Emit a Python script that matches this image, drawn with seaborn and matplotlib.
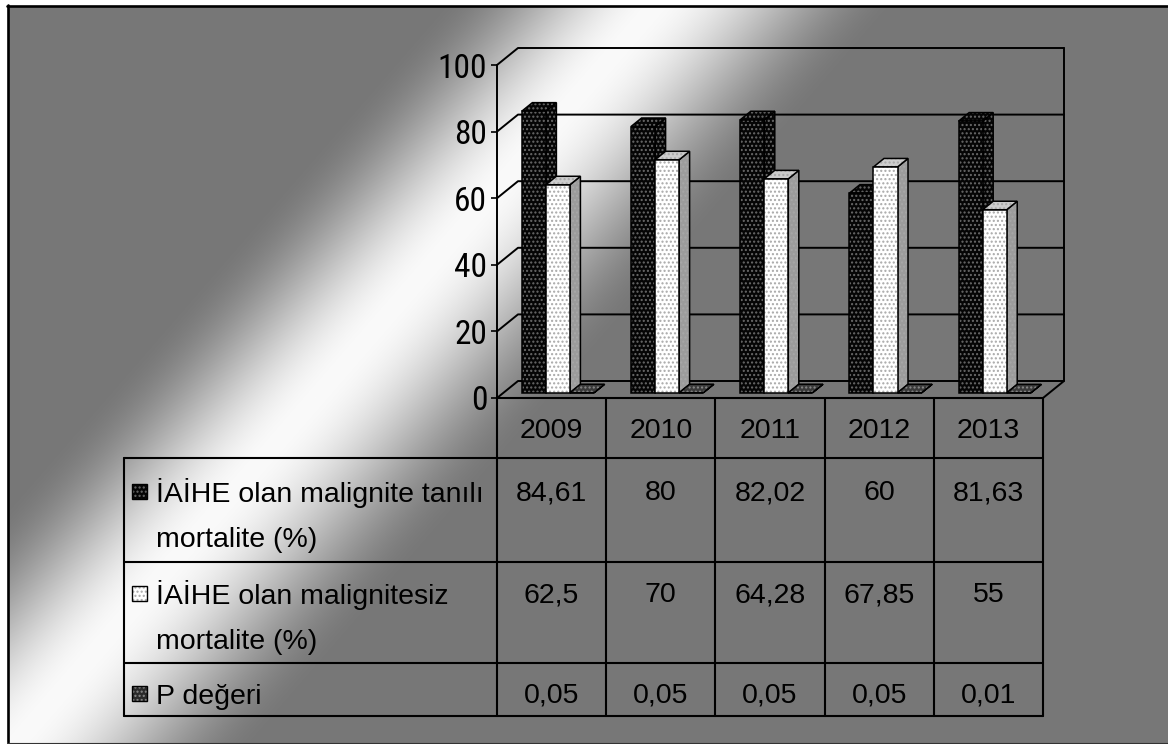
import numpy as np
import pandas as pd
import matplotlib
matplotlib.use("Agg")
import matplotlib.pyplot as plt
import seaborn as sns
from matplotlib import font_manager
from matplotlib.patches import Polygon, Rectangle
from matplotlib.lines import Line2D
from matplotlib.transforms import Affine2D, IdentityTransform

# ---- data ----
years = ["2009", "2010", "2011", "2012", "2013"]
malign_mortality = [84.61, 80, 82.02, 60, 81.63]
nonmalign_mortality = [62.5, 70, 64.28, 67.85, 55]
p_values = [0.05, 0.05, 0.05, 0.05, 0.01]
series_names = [
    "İAİHE olan malignite tanılı\nmortalite (%)",
    "İAİHE olan malignitesiz\nmortalite (%)",
    "P değeri",
]
y_ticks = [0, 20, 40, 60, 80, 100]

W, H = 1168, 744
sns.set_theme(style="white")
plt.rcParams["font.family"] = ["Liberation Sans", "DejaVu Sans"]
plt.rcParams["hatch.linewidth"] = 1.0

# a narrow face for the value axis, if one is installed
installed = {f.name for f in font_manager.fontManager.ttflist}
narrow_face = None
for cand in ["Liberation Sans Narrow", "Arial Narrow", "Roboto Condensed",
             "DejaVu Sans Condensed", "Open Sans Condensed"]:
    if cand in installed:
        narrow_face = cand
        break
if narrow_face:
    TICK_FAMILY, TICK_FS = [narrow_face, "Liberation Sans"], 24
else:
    TICK_FAMILY, TICK_FS = ["Liberation Sans", "DejaVu Sans"], 22

fig = plt.figure(figsize=(W / 100, H / 100), dpi=100)
fig.patch.set_facecolor("white")

# ---- background: grey fill with a diagonal light band ----
bg = fig.add_axes([0, 0, 1, 1], zorder=0)
bg.set_xlim(0, W)
bg.set_ylim(H, 0)
bg.axis("off")
yy, xx = np.mgrid[0:H, 0:W] + 0.5
t = (xx - 643) * 0.755 + (yy - 20) * 0.655
f = np.where(t < 0, 1 + t / 165.0, 1 - t / 185.0)
f = np.clip(f, 0, 1)
f = f * f * (3 - 2 * f)
g = (119 + (250 - 119) * f) / 255.0
bg.imshow(np.dstack([g, g, g]), extent=(0, W, H, 0), aspect="auto",
          interpolation="bilinear", zorder=0)
bg.add_patch(Rectangle((0, 0), 7, H, color="white", zorder=1))
bg.add_patch(Rectangle((0, 0), W, 5, color="white", zorder=1))
bg.add_line(Line2D([7.5, 7.5], [5, 742], color="black", lw=1.9, zorder=2))
bg.add_line(Line2D([7, W], [5.5, 5.5], color="black", lw=1.9, zorder=2))
bg.add_line(Line2D([7, W], [742.5, 742.5], color="#333333", lw=0.8, zorder=2))

# ---- plot area (front plane of the 3-D box) ----
X0, X1, Y0, Y100 = 497, 1043, 398, 65
DX, DY = 21, 17           # depth of the box in pixels
ax = fig.add_axes([X0 / W, 1 - Y0 / H, (X1 - X0) / W, (Y0 - Y100) / H], zorder=2)
ax.patch.set_alpha(0)

df = pd.DataFrame({
    "Yıl": years * 3,
    "Değer": malign_mortality + nonmalign_mortality + p_values,
    "Seri": [s for s in series_names for _ in years],
})
sns.barplot(data=df, x="Yıl", y="Değer", hue="Seri", hue_order=series_names,
            palette=["#050505", "#ffffff", "#2a2a2a"], saturation=1,
            width=0.66, dodge=True, errorbar=None, legend=False,
            linewidth=0, ax=ax)
ax.set_xlim(-0.5, 4.5)
ax.set_ylim(0, 100)
ax.set_xticks([])
ax.set_xlabel("")
ax.set_ylabel("")
ax.set_yticks(y_ticks)
ax.set_yticklabels([str(v) for v in y_ticks], fontfamily=TICK_FAMILY,
                   fontsize=TICK_FS)
ax.tick_params(axis="y", direction="out", length=4.5, width=1.2,
               color="black", pad=2.5, labelcolor="black", left=True)
for side in ["top", "right", "bottom"]:
    ax.spines[side].set_visible(False)
ax.spines["left"].set_color("black")
ax.spines["left"].set_linewidth(1.4)
ax.grid(False)


def disp(x, y):
    """pixel position measured from the top-left corner -> display coords"""
    return (x, H - y)


ID = IdentityTransform()


def wline(pts, lw=1.4, z=1):
    xs, ys = zip(*[disp(*p) for p in pts])
    ax.add_line(Line2D(xs, ys, color="black", lw=lw, transform=ID,
                       zorder=z, clip_on=False))


# back wall, side wall and floor outlines
scale = (Y0 - Y100) / 100.0
for v in y_ticks:
    yf = Y0 - v * scale
    wline([(X0, yf), (X0 + DX, yf - DY), (X1 + DX, yf - DY)])
wline([(X1 + DX, Y100 - DY), (X1 + DX, Y0 - DY), (X1, Y0)])

# ---- 3-D faces of every bar ----
styles = [
    dict(front="#050505", side="#050505", top="#050505", hatch="#6a6a6a"),
    dict(front="#ffffff", side="#9c9c9c", top="#cdcdcd", hatch="#a8a8a8"),
    dict(front="#2a2a2a", side="#2a2a2a", top="#3a3a3a", hatch="#8a8a8a"),
]
fo = (0.3 * DX, 0.3 * DY)        # front face position inside the box
dv = (0.5 * DX, 0.5 * DY)        # thickness of a bar


def face(pts, fc, hc, z):
    ax.add_patch(Polygon(pts, closed=True, facecolor=fc, edgecolor=hc,
                         hatch="....", lw=0, transform=ID, zorder=z,
                         clip_on=False))
    ax.add_patch(Polygon(pts, closed=True, fill=False, edgecolor="black",
                         lw=1.1, transform=ID, zorder=z + 0.1,
                         clip_on=False))


for i, cont in enumerate(ax.containers):
    st = styles[i]
    for j, bar in enumerate(cont.patches):
        x, w, h = bar.get_x(), bar.get_width(), bar.get_height()
        (a0, b0) = ax.transData.transform((x, 0))
        (a1, b1) = ax.transData.transform((x + w, h))
        a0 += fo[0]; a1 += fo[0]; b0 += fo[1]; b1 += fo[1]
        z = 5 + j * 10 + i * 3
        side = [(a1, b0), (a1, b1), (a1 + dv[0], b1 + dv[1]), (a1 + dv[0], b0 + dv[1])]
        top = [(a0, b1), (a1, b1), (a1 + dv[0], b1 + dv[1]), (a0 + dv[0], b1 + dv[1])]
        face(side, st["side"], st["hatch"], z)
        face(top, st["top"], st["hatch"], z + 0.5)
        bar.set_transform(ax.transData + Affine2D().translate(*fo))
        bar.set_facecolor(st["front"])
        bar.set_edgecolor(st["hatch"])
        bar.set_hatch("....")
        bar.set_linewidth(0)
        bar.set_zorder(z + 1)
        bar.set_clip_on(False)
        front = [(a0, b0), (a1, b0), (a1, b1), (a0, b1)]
        ax.add_patch(Polygon(front, closed=True, fill=False, edgecolor="black",
                             lw=1.1, transform=ID, zorder=z + 1.1, clip_on=False))

# ---- data table ----
ov = fig.add_axes([0, 0, 1, 1], zorder=3)
ov.set_xlim(0, W)
ov.set_ylim(H, 0)
ov.axis("off")
ov.patch.set_alpha(0)

col_edges = np.linspace(X0, X1, len(years) + 1)
row_edges = [Y0, 458, 562, 663, 716]
TL = 124
lw_t = 1.5
for k, xe in enumerate(col_edges):
    ov.add_line(Line2D([xe, xe], [Y0, row_edges[-1]], color="black", lw=lw_t))
ov.add_line(Line2D([TL, TL], [row_edges[1], row_edges[-1]], color="black", lw=lw_t))
ov.add_line(Line2D([X0, X1], [Y0, Y0], color="black", lw=lw_t))
for ye in row_edges[1:]:
    ov.add_line(Line2D([TL, X1], [ye, ye], color="black", lw=lw_t))

FS = 20.5
centers = (col_edges[:-1] + col_edges[1:]) / 2
for cx, yr in zip(centers, years):
    ov.text(cx, 438, yr, ha="center", va="baseline", fontsize=FS, color="black")


def fmt(v):
    return f"{v:g}".replace(".", ",")


rows = [malign_mortality, nonmalign_mortality, p_values]
row_base = [500, 602, 702]
key_styles = [("#050505", "#6a6a6a"), ("#ffffff", "#a8a8a8"), ("#2a2a2a", "#8a8a8a")]
for r, (vals, name) in enumerate(zip(rows, series_names)):
    yb = row_base[r]
    for cx, v in zip(centers, vals):
        ov.text(cx, yb, fmt(v), ha="center", va="baseline", fontsize=FS, color="black")
    for li, line in enumerate(name.split("\n")):
        ov.text(156, yb + 2 + li * 45, line, ha="left", va="baseline",
                fontsize=FS, color="black")
    fc, hc = key_styles[r]
    ov.add_patch(Rectangle((132, yb - 16), 15, 15, facecolor=fc, edgecolor=hc,
                           hatch="....", lw=0))
    ov.add_patch(Rectangle((132, yb - 16), 15, 15, fill=False, edgecolor="black", lw=1.0))

fig.savefig("out.png", dpi=100)
